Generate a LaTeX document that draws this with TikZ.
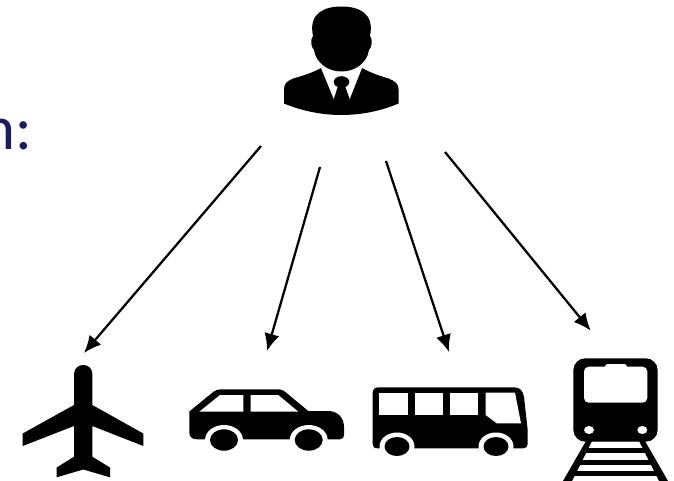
\documentclass[tikz,border=0pt]{standalone}
\usepackage{fontspec}
\setmainfont{Carlito}
\usepackage{tikz}
\usetikzlibrary{arrows.meta,positioning}
\definecolor{navytext}{RGB}{27,27,100}
\begin{document}
\begin{tikzpicture}[x=0.75pt,y=-0.75pt,
  link/.style={-{Latex[length=13pt,width=11.5pt]},line width=1.7pt},
  solid/.style={fill=black,draw=none},
  hole/.style={fill=white,draw=none}]
\useasboundingbox (0,0) rectangle (674,481);
% ---- caption, cut off by the left edge ----
\node[text=navytext,font=\fontsize{47}{48}\selectfont,anchor=base west,inner sep=0pt] (caption) at (-18,150) {n:};
% ---- traveller ----
\fill[solid] (321,68) .. controls (312,73) and (302,76) .. (293,78.5) .. controls (287,81) and (284,84) .. (284,89) -- (284,103.5)
  .. controls (302,111) and (322,115) .. (341.5,115) .. controls (361,115) and (381,111) .. (398.5,103.5) -- (398.5,89)
  .. controls (398.5,84) and (395,81) .. (388.5,78.5) .. controls (380,76) and (371,73) .. (362,68) -- cycle;
\fill[hole] (321,68) -- (334,99.5) -- (349.5,99.5) -- (362,68) -- cycle;
\fill[solid] (338,86) -- (333.5,100) -- (341.5,108) -- (350,100) -- (345,86) -- cycle;
\fill[solid] (341.5,82) ellipse (7.8 and 5.8);
\fill[solid] (313,36) .. controls (308,12) and (326,6.5) .. (341.5,6.5) .. controls (357,6.5) and (375,12) .. (370,36)
  .. controls (373,40) and (372,47) .. (369,50) .. controls (367,63) and (355,71.5) .. (341.5,71.5)
  .. controls (328,71.5) and (316,63) .. (314,50) .. controls (311,47) and (310,40) .. (313,36) -- cycle;
% ---- plane ----
\fill[solid] (74,405) -- (74,374) .. controls (74,368) and (79,365) .. (83.3,365) .. controls (88,365) and (92.3,368) .. (92.3,374)
  -- (92.3,405) -- (143.3,433.5) -- (143.3,446) -- (92.3,426) -- (92.3,456.7) -- (110,467.5) -- (110,477.3) -- (83.3,469.5)
  -- (56.7,477.3) -- (56.7,467.5) -- (74,456.7) -- (74,426) -- (22.7,446) -- (22.7,433.5) -- cycle;
% ---- car ----
\fill[solid] (189.3,411.5) -- (189.3,432) .. controls (189.3,437) and (192,439.3) .. (197,439.3) -- (340,439.3)
  .. controls (343,439.3) and (344,437) .. (344,435) -- (344,427) .. controls (344,417) and (337,411) .. (328,411) -- (308.3,411)
  -- (285,391.7) .. controls (283,390) and (281,389.3) .. (278.3,389.3) -- (221,389.3) .. controls (218,389.3) and (216,390) .. (213.5,391.7) -- cycle;
\fill[hole] (199.3,411.7) -- (220,395) -- (243.3,395) -- (243.3,411.7) -- cycle;
\fill[hole] (250.7,395) -- (278.3,395) -- (298.3,411.7) -- (250.7,411.7) -- cycle;
\foreach \wx in {224,308.7} {
  \fill[hole] (\wx,440) ellipse (19 and 15);
  \fill[solid] (\wx,440) ellipse (14 and 10.7);
}
% ---- bus ----
\fill[solid] (372.7,393) .. controls (372.7,389) and (375,387.3) .. (379,387.3) -- (514,387.3) .. controls (520,387.3) and (523,391) .. (524,397)
  -- (527.7,430) -- (527.7,444) .. controls (527.7,447) and (526,448.3) .. (523,448.3) -- (378,448.3)
  .. controls (374,448.3) and (372.7,447) .. (372.7,444) -- cycle;
\foreach \wlx/\wrx in {379.3/408.3,415/443.3,450/478.3} {
  \fill[hole] (\wlx,392.7) rectangle (\wrx,415);
}
\fill[hole] (485.7,392.7) -- (515,392.7) -- (521,423.3) -- (496.7,423.3) -- (485.7,415) -- cycle;
\foreach \wx in {397,496} {
  \fill[hole] (\wx,446.5) ellipse (17.5 and 14);
  \fill[solid] (\wx,446.5) ellipse (12.5 and 9.5);
}
% ---- train ----
\fill[solid,rounded corners=9pt] (573.3,358.3) rectangle (657.7,441.7);
\fill[hole,rounded corners=3.5pt] (584,366.7) rectangle (647.3,402.7);
\fill[hole,rounded corners=2pt] (605,364) rectangle (627,370);
\fill[hole] (589,430) ellipse (5 and 4);
\fill[hole] (642.3,430) ellipse (5 and 4);
\fill[solid] (586,441) -- (645,441) -- (668,481) -- (659,481) -- (639,441) -- (592,441) -- (572,481) -- (563,481) -- cycle;
\foreach \ty/\tl/\tr in {448/584/647,460/577/654,471/571/660} {
  \fill[solid] (\tl,\ty) rectangle (\tr,\ty+5);
}
% ---- links ----
\coordinate (from1) at (261,146);
\coordinate (from2) at (320,167);
\coordinate (from3) at (386,161);
\coordinate (from4) at (445,152);
\coordinate (plane) at (84,353);
\coordinate (car) at (267,351);
\coordinate (bus) at (449,352);
\coordinate (train) at (590.7,330.7);
\draw[link] (from1) -- (plane);
\draw[link] (from2) -- (car);
\draw[link] (from3) -- (bus);
\draw[link] (from4) -- (train);
\end{tikzpicture}
\end{document}
